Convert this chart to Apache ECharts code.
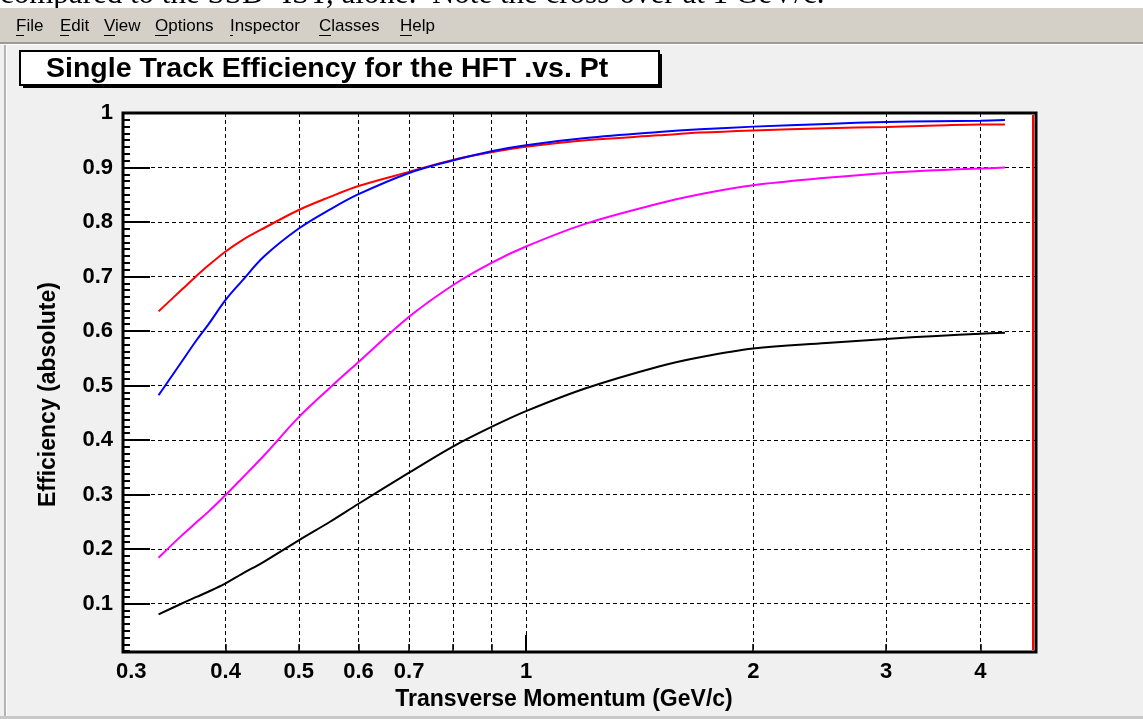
<!DOCTYPE html>
<html>
<head>
<meta charset="utf-8">
<title>Single Track Efficiency for the HFT .vs. Pt</title>
<script src="https://cdn.jsdelivr.net/npm/echarts@6/dist/echarts.min.js"></script>
<style>
html, body { margin: 0; padding: 0; background: #f0f0f0; }
#chart { width: 1143px; height: 719px; }
</style>
</head>
<body>
<div id="chart"></div>
<script>
// Pt sample points (GeV/c)
const ptValues = [0.326, 0.35, 0.366, 0.38, 0.4, 0.42, 0.45, 0.5, 0.55, 0.6, 0.7, 0.8, 0.9, 1.0, 1.2, 1.5, 1.7, 2.0, 2.5, 3.0, 3.5, 4.0, 4.31]

// efficiency curves, one per colour
const effRed = [0.636, 0.676, 0.701, 0.721, 0.746, 0.766, 0.789, 0.822, 0.846, 0.866, 0.892, 0.914, 0.928, 0.938, 0.950, 0.959, 0.964, 0.968, 0.972, 0.9745, 0.977, 0.979, 0.979]
const effBlue = [0.482, 0.544, 0.583, 0.613, 0.657, 0.691, 0.737, 0.788, 0.823, 0.851, 0.890, 0.913, 0.930, 0.941, 0.954, 0.965, 0.970, 0.975, 0.980, 0.9835, 0.985, 0.986, 0.987]
const effMagenta = [0.184, 0.225, 0.249, 0.269, 0.299, 0.329, 0.372, 0.442, 0.496, 0.543, 0.626, 0.684, 0.725, 0.755, 0.797, 0.834, 0.851, 0.8675, 0.881, 0.890, 0.895, 0.898, 0.900]
const effBlack = [0.080, 0.100, 0.112, 0.122, 0.137, 0.154, 0.177, 0.216, 0.250, 0.283, 0.340, 0.388, 0.424, 0.453, 0.495, 0.535, 0.552, 0.568, 0.578, 0.5855, 0.591, 0.595, 0.597]

// axes
const xLabelValues = [0.3, 0.4, 0.5, 0.6, 0.7, 1, 2, 3, 4]
const xTickValues = [0.4, 0.5, 0.6, 0.7, 0.8, 0.9, 1, 2, 3, 4]
const xLongTickValues = [1]
const yTickValues = [0.1, 0.2, 0.3, 0.4, 0.5, 0.6, 0.7, 0.8, 0.9, 1]
const X_MIN = 0.2925, X_MAX = 4.738
const Y_MIN = 0.011, Y_MAX = 1
const Y_MINOR_STEP = 0.0125

const menuItems = ['File', 'Edit', 'View', 'Options', 'Inspector', 'Classes', 'Help']
const titleText = 'Single Track Efficiency for the HFT .vs. Pt'
const captionText = 'compared to the SSD+IST, alone.  Note the cross-over at 1 GeV/c.'

const FONT = '"Liberation Sans", Arial, sans-serif'

// ROOT style secondary ticks on the y axis
const yMinorTicks = []
for (let k = 1; k * Y_MINOR_STEP < Y_MAX; k++) {
  if (k % 8 === 0) continue
  yMinorTicks.push(Math.round(k * Y_MINOR_STEP * 10000) / 10000)
}

function curve(name, color, values, width) {
  return {
    name,
    type: 'line',
    symbol: 'none',
    smooth: 0.35,
    animation: false,
    lineStyle: { color, width },
    itemStyle: { color },
    data: ptValues.map((p, i) => [p, values[i]])
  }
}

const menuX = [16, 60, 104, 155, 230, 319, 400]
const menuUnderlineW = [8, 9, 11, 13, 3, 12, 12]

function chromeGraphics() {
  const g = [
    { type: 'rect', shape: { x: 0, y: 0, width: 1143, height: 8 }, style: { fill: '#ffffff' }, z: 0 },
    { type: 'text', x: 0, y: -5, style: { text: captionText, font: '31px "Liberation Serif", "Times New Roman", serif', fill: '#000', verticalAlign: 'middle' }, z: 1 },
    { type: 'rect', shape: { x: 0, y: 8, width: 1143, height: 35 }, style: { fill: '#d4d0c8' }, z: 2 },
    { type: 'rect', shape: { x: 0, y: 42, width: 1143, height: 2 }, style: { fill: '#9c9a94' }, z: 2 },
    { type: 'rect', shape: { x: 0, y: 44, width: 1143, height: 1 }, style: { fill: '#ffffff' }, z: 2 },
    { type: 'rect', shape: { x: 4, y: 45, width: 2, height: 674 }, style: { fill: '#b4b4b4' }, z: 2 },
    { type: 'rect', shape: { x: 6, y: 45, width: 1, height: 674 }, style: { fill: '#ffffff' }, z: 2 },
    { type: 'rect', shape: { x: 0, y: 716, width: 1143, height: 3 }, style: { fill: '#c8c8c8' }, z: 2 },
    // title box with shadow
    { type: 'rect', shape: { x: 23, y: 54, width: 639, height: 34 }, style: { fill: '#000' }, z: 3 },
    { type: 'rect', shape: { x: 20, y: 51, width: 639, height: 34 }, style: { fill: '#ffffff', stroke: '#000', lineWidth: 2 }, z: 4 },
    { type: 'text', x: 46, y: 69, style: { text: titleText, font: 'bold 28.5px ' + FONT, fill: '#000', verticalAlign: 'middle' }, z: 5 }
  ]
  menuItems.forEach((m, i) => {
    g.push({ type: 'text', x: menuX[i], y: 26, style: { text: m, font: '17px ' + FONT, fill: '#000', verticalAlign: 'middle' }, z: 3 })
    g.push({ type: 'rect', shape: { x: menuX[i], y: 35, width: menuUnderlineW[i], height: 1 }, style: { fill: '#000' }, z: 3 })
  })
  return g
}

const chart = echarts.init(document.getElementById('chart'), null, { renderer: 'canvas' })

chart.setOption({
  animation: false,
  backgroundColor: '#f0f0f0',
  grid: {
    left: 123, right: 107, top: 113, bottom: 67,
    show: true, backgroundColor: '#ffffff', borderColor: '#000', borderWidth: 3
  },
  xAxis: [
    {
      type: 'log', logBase: 10, min: X_MIN, max: X_MAX, position: 'bottom',
      name: 'Transverse Momentum (GeV/c)',
      nameLocation: 'middle', nameGap: 28,
      nameTextStyle: { fontFamily: FONT, fontSize: 23, fontWeight: 'bold', color: '#000', padding: [0, 31, 0, 0] },
      axisLine: { show: false },
      axisTick: { show: true, inside: true, length: 8, customValues: xTickValues, lineStyle: { color: '#000', width: 1.5 } },
      axisLabel: {
        customValues: xLabelValues, margin: 9,
        fontFamily: FONT, fontSize: 22, fontWeight: 'bold', color: '#000',
        formatter: v => String(+(+v).toFixed(2))
      },
      splitLine: { show: true, lineStyle: { color: '#000', width: 1, type: [4, 3] } },
      minorTick: { show: false }
    },
    {
      type: 'log', logBase: 10, min: X_MIN, max: X_MAX, position: 'bottom', offset: 0,
      axisLine: { show: false },
      axisTick: { show: true, inside: true, length: 17, customValues: xLongTickValues, lineStyle: { color: '#000', width: 2 } },
      axisLabel: { show: false },
      splitLine: { show: false }
    }
  ],
  yAxis: [
    {
      type: 'value', min: Y_MIN, max: Y_MAX, position: 'left',
      name: 'Efficiency (absolute)',
      nameLocation: 'middle', nameGap: 63, nameRotate: 90,
      nameTextStyle: { fontFamily: FONT, fontSize: 23, fontWeight: 'bold', color: '#000', padding: [0, 24, 0, 0] },
      axisLine: { show: false },
      axisTick: { show: true, inside: true, length: 27, customValues: yTickValues, lineStyle: { color: '#000', width: 2 } },
      axisLabel: {
        customValues: yTickValues, margin: 10,
        fontFamily: FONT, fontSize: 22, fontWeight: 'bold', color: '#000',
        formatter: v => String(+(+v).toFixed(2))
      },
      splitLine: { show: true, lineStyle: { color: '#000', width: 1, type: [4, 3] } }
    },
    {
      type: 'value', min: Y_MIN, max: Y_MAX, position: 'left', offset: 0,
      axisLine: { show: false },
      axisTick: { show: true, inside: true, length: 7, customValues: yMinorTicks, lineStyle: { color: '#000', width: 2 } },
      axisLabel: { show: false },
      splitLine: { show: false }
    }
  ],
  series: [
    curve('black', '#000000', effBlack, 2),
    curve('magenta', '#ff00ff', effMagenta, 2),
    curve('red', '#ff0000', effRed, 2),
    curve('blue', '#0000ff', effBlue, 2)
  ],
  graphic: chromeGraphics()
})

// red edge of the frame on the right side, just inside the black border
const topRight = chart.convertToPixel({ gridIndex: 0 }, [X_MAX, Y_MAX])
const bottomRight = chart.convertToPixel({ gridIndex: 0 }, [X_MAX, Y_MIN])
chart.setOption({
  graphic: chromeGraphics().concat([{
    type: 'line',
    shape: { x1: topRight[0] - 3, y1: topRight[1] + 2, x2: bottomRight[0] - 3, y2: bottomRight[1] - 2 },
    style: { stroke: '#ff0000', lineWidth: 2 },
    z: 6
  }])
}, { replaceMerge: ['graphic'] })
</script>
</body>
</html>
